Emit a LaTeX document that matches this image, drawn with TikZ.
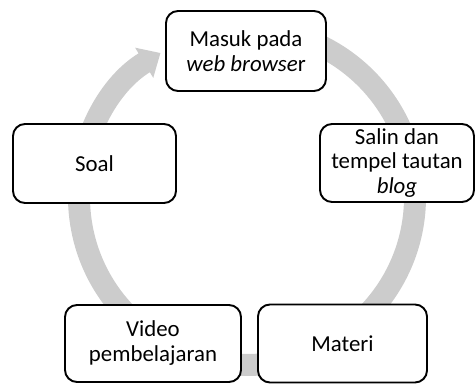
\documentclass[tikz,border=0pt]{standalone}
\usepackage{fontspec}
\setmainfont{Carlito}
\usetikzlibrary{arrows.meta}
\definecolor{Ink}{HTML}{000000}
\definecolor{RingGray}{HTML}{CCCCCC}
\tikzset{
  stepbox/.style={
    rounded corners=0.24cm, draw=Ink, line width=1.1pt, fill=white,
    align=center, inner sep=2pt, font=\fontsize{13}{14.2}\selectfont
  },
  ring/.style={
    draw=RingGray, line width=0.44cm,
    -{Triangle[length=0.38cm,width=0.68cm]}
  }
}
\begin{document}
\begin{tikzpicture}
    \useasboundingbox (0,0) rectangle (9.52,7.68);
    % grey cycle arrow behind the boxes
    \coordinate (hub) at (4.94,3.74);
    \draw[ring] ([shift={(95:3.36)}]hub) arc[start angle=95, end angle=-239, radius=3.36];
    % steps
    \node[stepbox,minimum width=3.2cm,minimum height=1.6cm] (login) at (4.92,6.66) {Masuk pada\\\textit{web browse}r};
    \node[stepbox,minimum width=3.08cm,minimum height=1.56cm] (link) at (7.94,4.42) {Salin dan\\tempel tautan\\\textit{blog}};
    \node[stepbox,minimum width=3.38cm,minimum height=1.56cm] (materi) at (6.85,0.81) {Materi};
    \node[stepbox,minimum width=3.52cm,minimum height=1.54cm] (video) at (3.06,0.81) {Video\\pembelajaran};
    \node[stepbox,minimum width=3.26cm,minimum height=1.58cm] (soal) at (1.89,4.41) {Soal};
\end{tikzpicture}
\end{document}
